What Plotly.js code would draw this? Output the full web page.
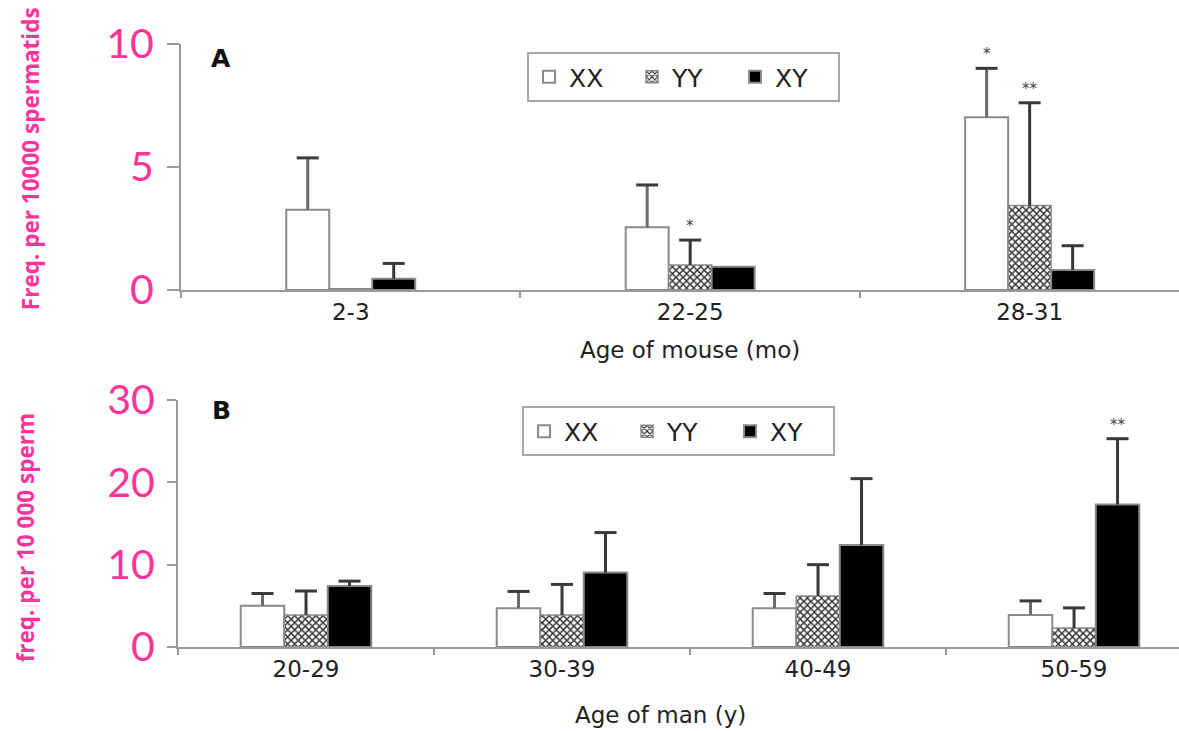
<!DOCTYPE html>
<html><head><meta charset="utf-8">
<script src="https://cdn.plot.ly/plotly-3.0.1.min.js"></script>
<style>html,body{margin:0;padding:0;background:#fff;width:1179px;height:731px;overflow:hidden}
#a{position:absolute;left:0;top:0;width:1179px;height:365px}
#b{position:absolute;left:0;top:365px;width:1179px;height:366px}</style>
</head><body><div id="a"></div><div id="b"></div>
<script>
// Panel A: mouse
const catsA = ['2-3', '22-25', '28-31'];
const xxA = [3.26, 2.55, 7.02];
const xxAerr = [2.11, 1.72, 1.99];
const yyA = [0.05, 1.02, 3.43];
const yyAerr = [0, 1.01, 4.18];
const xyA = [0.46, 0.95, 0.81];
const xyAerr = [0.62, 0, 0.99];
const starsA = {XX: ['', '', '*'], YY: ['', '*', '**'], XY: ['', '', '']};
const yTicksA = [0, 5, 10];

// Panel B: man
const catsB = ['20-29', '30-39', '40-49', '50-59'];
const xxB = [5.0, 4.7, 4.7, 3.9];
const xxBerr = [1.5, 2.05, 1.8, 1.7];
const yyB = [3.9, 3.9, 6.2, 2.3];
const yyBerr = [2.9, 3.7, 3.8, 2.45];
const xyB = [7.4, 9.05, 12.4, 17.3];
const xyBerr = [0.6, 4.85, 8.05, 8.0];
const starsB = {XX: ['', '', '', ''], YY: ['', '', '', ''], XY: ['', '', '', '**']};
const yTicksB = [0, 10, 20, 30];

const PINK = '#ff3399';
const DARK = '#222';
const GRID = '#9a9a9a';
const TXT = 'DejaVu Sans, Liberation Sans, Arial';

function makeFig(div, cats, xx, xxe, yy, yye, xy, xye, stars, yTicks, opt) {
  const traces = [
    {type: 'bar', name: 'XX', x: cats, y: xx,
     marker: {color: '#ffffff', line: {color: '#8a8a8a', width: 2}}},
    {type: 'bar', name: 'YY', x: cats, y: yy,
     marker: {color: '#ffffff', line: {color: '#8a8a8a', width: 1.5},
       pattern: {shape: 'x', size: 5, solidity: 0.5, fgcolor: '#3a3a3a', bgcolor: '#ffffff'}}},
    {type: 'bar', name: 'XY', x: cats, y: xy,
     marker: {color: '#000000', line: {color: '#8a8a8a', width: 2}}}
  ];
  const keys = ['XX', 'YY', 'XY'];
  const errs = {XX: xxe, YY: yye, XY: xye};
  const vals = {XX: xx, YY: yy, XY: xy};
  const ebColor = {XX: '#6a6a6a', YY: '#383838', XY: '#383838'};
  const shapes = [];
  const ann = [];
  keys.forEach((k, i) => {
    const off = (i - 1) * opt.barPx;
    cats.forEach((c, j) => {
      const top = vals[k][j], e = errs[k][j];
      if (e > 0) {
        const base = {type: 'line', xref: 'x', yref: 'y', xsizemode: 'pixel', xanchor: j, layer: 'above'};
        shapes.push(Object.assign({}, base, {x0: off, x1: off, y0: top, y1: top + e,
          line: {color: ebColor[k], width: 3}}));
        shapes.push(Object.assign({}, base, {x0: off - 11, x1: off + 11, y0: top + e, y1: top + e,
          line: {color: '#3a3a3a', width: 3}}));
      }
      if (stars[k][j]) ann.push({x: j, y: top + e, xref: 'x', yref: 'y',
        text: stars[k][j], showarrow: false, xanchor: 'center', yanchor: 'bottom', yshift: 3,
        xshift: off, font: {family: TXT, size: 15, color: '#444'}});
    });
  });
  ann.push({x: opt.letterX, y: opt.letterY, xref: 'paper', yref: 'paper', text: '<b>' + opt.letter + '</b>',
    xanchor: 'center', yanchor: 'middle',
    showarrow: false, font: {family: TXT, size: 25, color: '#111'}});
  ann.push({x: opt.xtX, y: opt.xtY, xref: 'paper', yref: 'paper', text: opt.xtitle,
    xanchor: 'center', yanchor: 'middle',
    showarrow: false, font: {family: TXT, size: 23, color: DARK}});
  ann.push({x: opt.ytX, y: opt.ytY, xref: 'paper', yref: 'paper', text: '<b>' + opt.ytitle + '</b>',
    xanchor: 'center', yanchor: 'middle',
    textangle: -90, showarrow: false, font: {family: 'Open Sans, Noto Sans', size: opt.ytSize, color: PINK}});
  const layout = {
    width: 1179, height: opt.h, margin: opt.margin, paper_bgcolor: '#fff', plot_bgcolor: '#fff',
    barmode: 'group', bargap: opt.bargap, bargroupgap: 0, showlegend: true,
    legend: {orientation: 'h', x: opt.legX, y: opt.legY, xanchor: 'left', yanchor: 'top',
      bordercolor: '#a8a8a8', borderwidth: 2, bgcolor: '#fff', entrywidth: 58, entrywidthmode: 'pixels',
      font: {family: TXT, size: 25, color: DARK}},
    xaxis: {type: 'category', range: opt.xrange, showline: true, linecolor: GRID, linewidth: 2,
      ticks: 'outside', tickson: 'boundaries', ticklen: 6, tickcolor: GRID, tickwidth: 2,
      tickfont: {family: TXT, size: 23, color: DARK}, showgrid: false, zeroline: false},
    yaxis: {range: opt.yrange, tickvals: yTicks, showline: true, linecolor: GRID, linewidth: 2,
      ticks: 'outside', ticklen: opt.ticklen, tickcolor: GRID, tickwidth: 2, ticklabelstandoff: opt.standoff,
      tickfont: {family: 'Lato, Noto Sans', size: 41, color: PINK}, showgrid: false, zeroline: false},
    shapes: shapes,
    annotations: ann
  };
  Plotly.newPlot(div, traces, layout, {displayModeBar: false, staticPlot: true});
}

makeFig('a', catsA, xxA, xxAerr, yyA, yyAerr, xyA, xyAerr, starsA, yTicksA, {
  h: 365, margin: {l: 181, r: 0, t: 44, b: 75}, bargap: 0.62, xrange: [-0.5, 2.44], yrange: [0, 10],
  barPx: 43, ticklen: 12, standoff: 5,
  legX: 0.3467, legY: 0.967, letter: 'A', letterX: 0.040, letterY: 0.943,
  xtitle: 'Age of mouse (mo)', xtX: 0.51, xtY: -0.245,
  ytitle: 'Freq. per 10000 spermatids', ytX: -0.1513, ytY: 0.532, ytSize: 22.5
});
makeFig('b', catsB, xxB, xxBerr, yyB, yyBerr, xyB, xyBerr, starsB, yTicksB, {
  h: 366, margin: {l: 178, r: 0, t: 34.5, b: 84}, bargap: 0.49, xrange: [-0.5, 3.41], yrange: [0, 30],
  barPx: 43.5, ticklen: 9, standoff: 4,
  legX: 0.3437, legY: 0.974, letter: 'B', letterX: 0.043, letterY: 0.958,
  xtitle: 'Age of man (y)', xtX: 0.4825, xtY: -0.275,
  ytitle: 'freq. per 10 000 sperm', ytX: -0.1528, ytY: 0.44, ytSize: 22.5
});
</script></body></html>
